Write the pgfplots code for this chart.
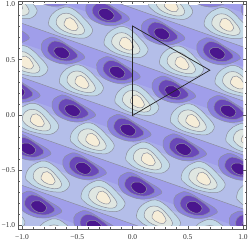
\documentclass[border=0pt]{standalone}
\usepackage{fontspec}
\setmainfont{Liberation Serif}
\usepackage{pgfplots}
\usepackage{pgfplotstable}
\pgfplotsset{compat=1.18}
\definecolor{cA}{HTML}{A09EEA}
\definecolor{cAB}{HTML}{AAAEEA}
\definecolor{cB}{HTML}{B4BEE9}
\definecolor{cLa}{HTML}{C4DAE7}
\definecolor{cLb}{HTML}{DFE6E1}
\definecolor{cLc}{HTML}{F6EDD8}
\definecolor{cDa}{HTML}{8A80DC}
\definecolor{cDb}{HTML}{6A48B8}
\definecolor{cDc}{HTML}{4A168E}
\definecolor{cline}{HTML}{8C8F9E}
% blob outlines, offsets from the blob centre in picture pixels (y downwards)
\pgfplotstableread{
x y
-21.7 -1
-18 -9.5
-10 -15
-2 -16.5
6 -12.5
14 -5
21 3
22 8.5
17 13.5
10 14.5
0 13
-11 9.5
-19 4
}\lightA
\pgfplotstableread{
x y
-14 -2
-11 -8
-4 -10.5
3 -8
9 -2
13.5 4
14 8.5
10 11
3 10.5
-6 7.5
-12 3
}\lightB
\pgfplotstableread{
x y
-6 -1
-4 -5
0 -6
4 -3.5
7 1
8 4
6 6.7
1 6.5
-3 4.5
-6 1.5
}\lightC
\pgfplotstableread{
x y
-20.3 -7.5
-14.3 -13.5
-6 -14
8 -6
22.3 3.3
19 8.5
5.7 12
-7.7 9.5
-17.7 2.5
}\darkA
\pgfplotstableread{
x y
-14 -4
-10 -10
-3 -10.5
6 -6
15.7 2.5
13 7
5 9
-5 7
-12 2
}\darkB
\pgfplotstableread{
x y
-7.7 -2
-4 -5
1 -5
7 -0.5
7.5 3.5
4 6.5
-1 6
-6 2.5
}\darkC
\newcommand\blob[4]{\addplot[fill=#4,draw=cline,line width=0.5pt,/tikz/smooth cycle,/tikz/tension=0.75,mark=none,forget plot] table[x expr=#2+\thisrow{x}*0.00905,y expr=#3-\thisrow{y}*0.00905]{#1};}
\newcommand\LB[2]{\blob{\lightA}{#1}{#2}{cLa}\blob{\lightB}{#1}{#2}{cLb}\blob{\lightC}{#1}{#2}{cLc}}
\newcommand\DB[2]{\blob{\darkA}{#1}{#2}{cDa}\blob{\darkB}{#1}{#2}{cDb}\blob{\darkC}{#1}{#2}{cDc}}
\newcommand\band[6]{\addplot[fill=cAB,draw=none,forget plot] coordinates {(-1.1,#1) (1.1,#2) (1.1,#4) (-1.1,#3)} -- cycle;
\addplot[fill=cA,draw=none,forget plot] coordinates {(-1.1,#1) (1.1,#2) (1.1,#6) (-1.1,#5)} -- cycle;
\addplot[draw=cline,line width=0.5pt,forget plot] coordinates {(-1.1,#1) (1.1,#2)};}
\begin{document}
\begin{tikzpicture}[x=1bp,y=1bp]
\useasboundingbox (-22,-17) rectangle (227,226);
\begin{axis}[at={(0,0)},anchor=south west,scale only axis,width=221bp,height=221bp,
  xmin=-1,xmax=1,ymin=-1,ymax=1,hide axis]
\addplot[fill=cB,draw=none,forget plot] coordinates {(-1,-1) (1,-1) (1,1) (-1,1)} -- cycle;
\band{1.846}{1.074}{1.607}{0.835}{1.667}{0.895}
\band{1.358}{0.586}{1.119}{0.347}{1.179}{0.407}
\band{0.869}{0.097}{0.630}{-0.142}{0.690}{-0.082}
\band{0.380}{-0.392}{0.142}{-0.630}{0.202}{-0.570}
\band{-0.108}{-0.880}{-0.347}{-1.119}{-0.287}{-1.059}
\band{-0.597}{-1.369}{-0.835}{-1.607}{-0.775}{-1.547}
\band{-1.085}{-1.857}{-1.324}{-2.096}{-1.264}{-2.036}
% light blobs
\LB{0.342}{1.002}\LB{0.844}{0.826}
\LB{-1.066}{1.007}\LB{-0.564}{0.831}\LB{-0.062}{0.655}\LB{0.44}{0.479}\LB{0.942}{0.303}
\LB{-0.968}{0.484}\LB{-0.466}{0.308}\LB{0.036}{0.132}\LB{0.538}{-0.044}\LB{1.04}{-0.22}
\LB{-0.87}{-0.039}\LB{-0.368}{-0.215}\LB{0.134}{-0.391}\LB{0.636}{-0.567}\LB{1.138}{-0.743}
\LB{-0.772}{-0.562}\LB{-0.27}{-0.738}\LB{0.232}{-0.914}\LB{0.734}{-1.09}
\LB{-0.674}{-1.085}\LB{-1.176}{-0.909}\LB{-0.16}{1.178}
% dark blobs
\DB{0.668}{1.0925}\DB{1.17}{0.9165}\DB{0.166}{1.2685}
\DB{-0.74}{1.0975}\DB{-0.238}{0.9215}\DB{0.264}{0.7455}\DB{0.766}{0.5695}\DB{1.268}{0.3935}
\DB{-1.144}{0.7505}\DB{-0.642}{0.5745}\DB{-0.14}{0.3985}\DB{0.362}{0.2225}\DB{0.864}{0.0465}
\DB{-1.046}{0.2275}\DB{-0.544}{0.0515}\DB{-0.042}{-0.1245}\DB{0.46}{-0.3005}\DB{0.962}{-0.4765}
\DB{-0.948}{-0.2955}\DB{-0.446}{-0.4715}\DB{0.056}{-0.6475}\DB{0.558}{-0.8235}\DB{1.06}{-0.9995}
\DB{-0.85}{-0.8185}\DB{-0.348}{-0.9945}\DB{0.154}{-1.1705}
% triangle
\addplot[draw=black!85,line width=0.7pt,forget plot] coordinates {(0,0) (0,0.81) (0.70,0.41)} -- cycle;
\end{axis}
\begin{axis}[at={(-3.3bp,-2.7bp)},anchor=south west,scale only axis,width=227.6bp,height=227.6bp,
  xmin=-1.03,xmax=1.03,ymin=-1.03,ymax=1.03,
  axis line style={black!65,line width=0.4pt},
  xtick={-1,-0.5,0,0.5,1},ytick={-1,-0.5,0,0.5,1},
  xticklabels={−1.0,−0.5,0.0,0.5,1.0},yticklabels={−1.0,−0.5,0.0,0.5,1.0},
  minor x tick num=4,minor y tick num=4,
  tick align=inside,major tick length=3bp,minor tick length=1.6bp,
  tick style={black!65,line width=0.4pt},
  tick label style={font=\fontsize{7.5}{8}\selectfont,text=black!80},
  every x tick label/.style={yshift=-2bp},
  every y tick label/.style={xshift=0bp}]
\end{axis}
\end{tikzpicture}
\end{document}
